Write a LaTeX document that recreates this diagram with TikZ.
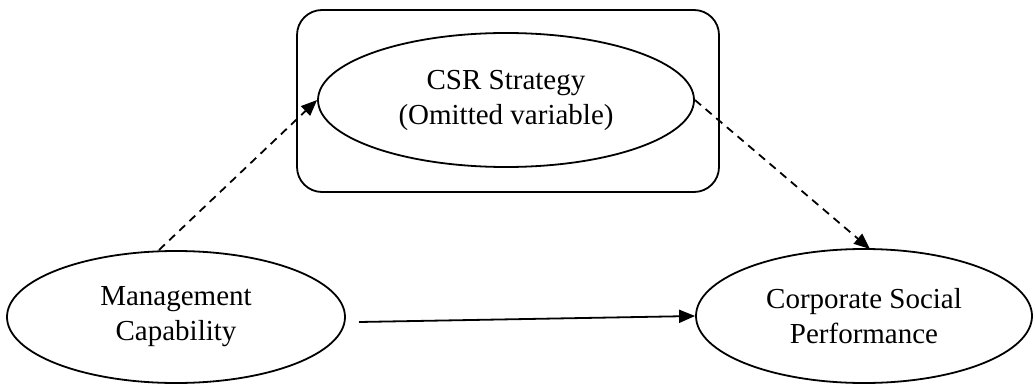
\documentclass[tikz,border=0pt]{standalone}
\usepackage{fontspec}
\setmainfont{Liberation Serif}
\usetikzlibrary{shapes.geometric,arrows.meta}
\begin{document}
\begin{tikzpicture}[x=1pt,y=-1pt,
  every node/.style={font=\fontsize{29}{35}\selectfont},
  oval/.style={ellipse,draw,line width=1.8pt,inner sep=0pt,align=center},
  dashedarrow/.style={draw,dashed,dash pattern=on 8pt off 6pt,line width=1.8pt,-{Triangle[length=16pt,width=13pt]}},
  solidarrow/.style={draw,line width=1.8pt,-{Triangle[length=16pt,width=13pt]}}]
\useasboundingbox (0,0) rectangle (1035,385);
\draw[line width=1.8pt,rounded corners=25pt] (297,10) rectangle (719,192);
\node[oval,minimum width=376pt,minimum height=134pt] (csr) at (506,100) {CSR Strategy\\(Omitted variable)};
\node[oval,minimum width=338pt,minimum height=132pt] (mc) at (176,317) {Management\\Capability};
\node[oval,minimum width=336pt,minimum height=134pt] (csp) at (864,316) {Corporate Social\\Performance};
\coordinate (a1) at (159,250);
\coordinate (a2) at (870,249);
\coordinate (s1) at (359,322);
\draw[dashedarrow] (a1) -- (csr.west);
\draw[dashedarrow] (csr.east) -- (a2);
\draw[solidarrow] (s1) -- (csp.west);
\end{tikzpicture}
\end{document}
